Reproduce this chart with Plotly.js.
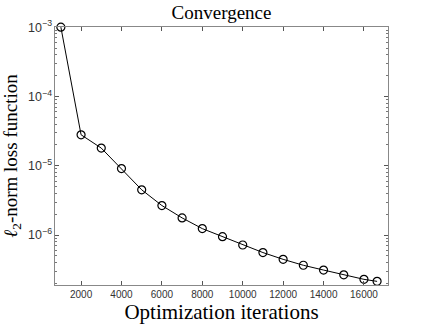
<!DOCTYPE html>
<html>
<head>
<meta charset="utf-8">
<script src="https://cdn.plot.ly/plotly-3.0.1.min.js"></script>
<style>
  html, body { margin: 0; padding: 0; background: #fff; }
  #chart { width: 429px; height: 327px; }
</style>
</head>
<body>
<div id="chart"></div>
<script>
// iterations and l2-norm loss
const iterations = [1000, 2000, 3000, 4000, 5000, 6000, 7000, 8000, 9000,
                    10000, 11000, 12000, 13000, 14000, 15000, 16000, 16650];
const lossValues = [1.0e-3, 2.8e-5, 1.8e-5, 9.1e-6, 4.5e-6, 2.67e-6, 1.77e-6, 1.24e-6, 9.5e-7,
                    7.2e-7, 5.6e-7, 4.47e-7, 3.67e-7, 3.13e-7, 2.67e-7, 2.3e-7, 2.15e-7];
const xTicks = [2000, 4000, 6000, 8000, 10000, 12000, 14000, 16000];

const serif = 'Liberation Serif, DejaVu Serif, serif';
const sans = 'Liberation Sans, Arial, sans-serif';

const data = [{
    x: iterations,
    y: lossValues,
    type: 'scatter',
    mode: 'lines+markers',
    cliponaxis: false,
    line: { color: '#000', width: 1 },
    marker: { symbol: 'circle-open', size: 8, color: '#000', line: { width: 1.2 } },
    hoverinfo: 'x+y'
}];

const layout = {
    width: 429,
    height: 327,
    margin: { t: 27, r: 41, b: 42, l: 55 },
    paper_bgcolor: '#fff',
    plot_bgcolor: '#fff',
    showlegend: false,
    font: { family: sans, color: '#262626', size: 10 },
    title: {
        text: 'Convergence',
        font: { family: serif, size: 19, color: '#000' },
        xref: 'paper', x: 0.5, xanchor: 'center',
        yref: 'container', y: 0.962, yanchor: 'middle'
    },
    xaxis: {
        range: [710, 17190],
        tickvals: xTicks,
        ticktext: xTicks.map(String),
        ticks: 'inside', ticklen: 4, tickcolor: '#555',
        showline: true, linecolor: '#888', linewidth: 1,
        mirror: 'allticks',
        showgrid: false, zeroline: false,
        tickfont: { family: sans, size: 10, color: '#333' },
        title: { text: 'Optimization iterations', font: { family: serif, size: 21, color: '#000' }, standoff: 3 }
    },
    yaxis: {
        type: 'log',
        range: [-6.72, -2.998],
        dtick: 1,
        exponentformat: 'power',
        ticks: 'inside', ticklen: 4, tickcolor: '#555',
        showline: true, linecolor: '#888', linewidth: 1,
        mirror: 'allticks',
        showgrid: false, zeroline: false,
        minor: { ticks: 'inside', ticklen: 2, tickcolor: '#777', dtick: 'D1', showgrid: false },
        tickfont: { family: sans, size: 10, color: '#333' },
        title: { text: '<i>ℓ</i><sub>2</sub>-norm loss function', font: { family: serif, size: 19, color: '#000' }, standoff: 6 }
    }
};

Plotly.newPlot('chart', data, layout, { displayModeBar: false, staticPlot: true });
</script>
</body>
</html>
